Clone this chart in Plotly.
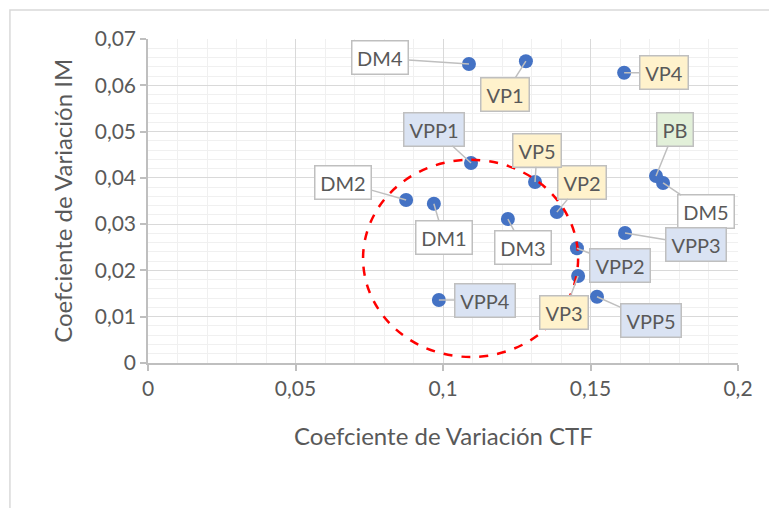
import plotly.graph_objects as go

# ---- data ----
labels = ["DM1", "DM2", "DM3", "DM4", "DM5",
          "VP1", "VP2", "VP3", "VP4", "VP5",
          "VPP1", "VPP2", "VPP3", "VPP4", "VPP5", "PB"]
cv_ctf = [0.0969, 0.0875, 0.1220, 0.1088, 0.1746,
          0.1281, 0.1386, 0.1458, 0.1614, 0.1312,
          0.1095, 0.1454, 0.1617, 0.0986, 0.1522, 0.1722]
cv_im = [0.0344, 0.0352, 0.0311, 0.0646, 0.0389,
         0.0652, 0.0326, 0.0188, 0.0627, 0.0391,
         0.0432, 0.0248, 0.0281, 0.0136, 0.0143, 0.0404]
x_ticks = [0, 0.05, 0.1, 0.15, 0.2]
y_ticks = [0, 0.01, 0.02, 0.03, 0.04, 0.05, 0.06, 0.07]
x_title = "Coefciente de Variación CTF"
y_title = "Coefciente de Variación IM"

# ---- styles (label callout offsets in pixels, fills) ----
offsets = {
    "DM1": (10, 34), "DM2": (-63, -18), "DM3": (15, 28), "DM4": (-89, -6), "DM5": (43, 29),
    "VP1": (-21, 33), "VP2": (25, -30), "VP3": (-14, 37), "VP4": (40, 0), "VP5": (2, -32),
    "VPP1": (-37, -34), "VPP2": (43, 17), "VPP3": (71, 12), "VPP4": (46, 0), "VPP5": (54, 24),
    "PB": (19, -47),
}

def fill_for(lab):
    if lab.startswith("VPP"):
        return "#DAE3F3"
    if lab.startswith("VP"):
        return "#FFF2CC"
    if lab == "PB":
        return "#E2F0D9"
    return "#FFFFFF"

def width_for(lab):
    if lab == "PB":
        return 27
    if len(lab) == 4:
        return 51
    if lab.startswith("VP"):
        return 39
    return 47

FONT = "Lato, 'Open Sans', sans-serif"
TXT = "#595959"

fig = go.Figure()
fig.add_trace(go.Scatter(
    x=cv_ctf, y=cv_im, mode="markers",
    marker=dict(size=14, color="#4472C4"),
    showlegend=False, hoverinfo="text", text=labels,
))

annotations = []
for lab, xv, yv in zip(labels, cv_ctf, cv_im):
    ax, ay = offsets[lab]
    annotations.append(dict(
        x=xv, y=yv, xref="x", yref="y", text=lab,
        showarrow=True, arrowhead=0, arrowwidth=1.5, arrowcolor="#BFBFBF",
        ax=ax, ay=ay, standoff=0,
        bgcolor=fill_for(lab), bordercolor="#BFBFBF", borderwidth=1.5,
        borderpad=4, width=width_for(lab), height=24,
        font=dict(family=FONT, size=20, color=TXT),
    ))

# axis titles
annotations.append(dict(
    x=0.5, y=-0.225, xref="paper", yref="paper", text=x_title, showarrow=False,
    xanchor="center", yanchor="middle", font=dict(family=FONT, size=24, color=TXT)))
annotations.append(dict(
    x=-0.146, y=0.5, xref="paper", yref="paper", text=y_title, showarrow=False,
    textangle=-90, xanchor="center", yanchor="middle",
    font=dict(family=FONT, size=24, color=TXT)))

shapes = [
    # dashed red ellipse
    dict(type="circle", xref="x", yref="y", x0=0.0729, x1=0.1458, y0=0.0013, y1=0.0439,
         line=dict(color="#FF0000", width=2.5, dash="dash"), layer="above"),
    # chart frame (cropped)
    dict(type="rect", xref="paper", yref="paper", x0=-0.234, x1=1.3, y0=-0.7, y1=1.0895,
         line=dict(color="#D9D9D9", width=1.5), layer="below"),
]

fig.update_layout(
    width=769, height=508,
    margin=dict(l=148, r=31, t=39, b=145),
    paper_bgcolor="white", plot_bgcolor="white",
    separators=",.",
    font=dict(family=FONT, color=TXT),
    annotations=annotations, shapes=shapes,
    xaxis=dict(
        range=[0, 0.2], tickvals=x_ticks, showgrid=True, gridcolor="#D9D9D9", gridwidth=1,
        minor=dict(dtick=0.01, showgrid=True, gridcolor="#F0F0F0", gridwidth=1),
        showline=True, linecolor="#BFBFBF", linewidth=1.5,
        ticks="outside", ticklen=6, tickcolor="#BFBFBF", tickwidth=1.5,
        zeroline=False, tickfont=dict(family=FONT, size=21, color=TXT),
    ),
    yaxis=dict(
        range=[0, 0.07], tickvals=y_ticks, showgrid=True, gridcolor="#D9D9D9", gridwidth=1,
        minor=dict(dtick=0.002, showgrid=True, gridcolor="#F0F0F0", gridwidth=1),
        showline=True, linecolor="#BFBFBF", linewidth=1.5,
        ticks="outside", ticklen=6, tickcolor="#BFBFBF", tickwidth=1.5,
        zeroline=False, tickfont=dict(family=FONT, size=21, color=TXT),
    ),
)

fig.write_html("out.html", config={"displayModeBar": False},
               post_script="document.body.style.margin='0';document.body.style.overflow='hidden';")
